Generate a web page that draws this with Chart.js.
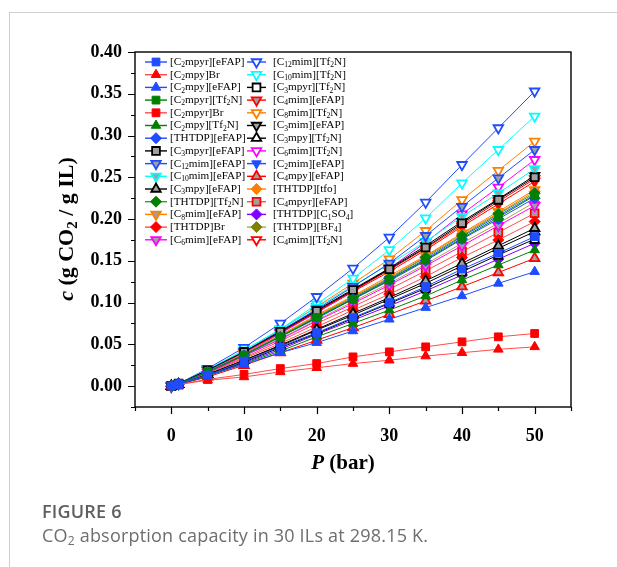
<!DOCTYPE html>
<html>
<head>
<meta charset="utf-8">
<script src="https://cdn.jsdelivr.net/npm/chart.js@4.4.1/dist/chart.umd.min.js"></script>
<style>
  html, body { margin: 0; padding: 0; background: #fff; }
  #wrap { position: relative; width: 617px; height: 567px; overflow: hidden; }
  #frame { position: absolute; left: 9px; top: 12px; right: -2px; bottom: -2px;
           border-top: 1px solid #cfcfcf; border-left: 1px solid #cfcfcf; }
  canvas { position: absolute; left: 0; top: 0; }
  .fig { position: absolute; left: 42px; top: 499px; font-family: "Open Sans"; font-weight: 600;
         font-size: 18px; letter-spacing: 0.2px; color: #5f5f5f; }
  .cap { position: absolute; left: 42px; top: 523px; font-family: "Open Sans"; font-size: 18px;
         letter-spacing: 0.2px; color: #6e6e6e; }
  .cap sub { font-size: 12px; vertical-align: -3px; }
</style>
</head>
<body>
<div id="wrap">
  <div id="frame"></div>
  <canvas id="myChart" width="617" height="567"></canvas>
  <div class="fig">FIGURE 6</div>
  <div class="cap">CO<sub>2</sub> absorption capacity in 30 ILs at 298.15 K.</div>
</div>
<script>
"use strict";

// pressure points (bar)
const pressure = [0, 1, 5, 10, 15, 20, 25, 30, 35, 40, 45, 50];

// CO2 uptake, g CO2 / g IL
const c_C2mpyr_eFAP = [0, 0.002, 0.013, 0.030, 0.047, 0.064, 0.082, 0.100, 0.119, 0.140, 0.159, 0.179];
const c_C2mpy_Br = [0, 0.002, 0.007, 0.011, 0.017, 0.022, 0.027, 0.031, 0.036, 0.040, 0.044, 0.047];
const c_C2mpy_eFAP = [0, 0.003, 0.013, 0.026, 0.040, 0.052, 0.066, 0.080, 0.094, 0.108, 0.123, 0.137];
const c_C2mpyr_Tf2N = [0, 0.003, 0.017, 0.037, 0.059, 0.082, 0.104, 0.127, 0.151, 0.177, 0.202, 0.228];
const c_C2mpyr_Br = [0, 0.002, 0.008, 0.014, 0.021, 0.027, 0.035, 0.041, 0.047, 0.053, 0.059, 0.063];
const c_C2mpy_Tf2N = [0, 0.002, 0.012, 0.027, 0.042, 0.059, 0.075, 0.091, 0.108, 0.127, 0.145, 0.163];
const c_THTDP_eFAP = [0, 0.003, 0.017, 0.037, 0.059, 0.081, 0.104, 0.126, 0.150, 0.176, 0.200, 0.225];
const c_C3mpyr_eFAP = [0, 0.003, 0.019, 0.041, 0.065, 0.090, 0.115, 0.140, 0.166, 0.195, 0.223, 0.250];
const c_C12mim_eFAP = [0, 0.003, 0.019, 0.041, 0.066, 0.092, 0.119, 0.147, 0.180, 0.215, 0.249, 0.283];
const c_C10mim_eFAP = [0, 0.003, 0.020, 0.043, 0.068, 0.094, 0.120, 0.146, 0.173, 0.203, 0.231, 0.260];
const c_C3mpy_eFAP = [0, 0.002, 0.014, 0.031, 0.049, 0.068, 0.087, 0.106, 0.126, 0.147, 0.168, 0.189];
const c_THTDP_Tf2N = [0, 0.003, 0.017, 0.038, 0.060, 0.083, 0.106, 0.129, 0.154, 0.180, 0.206, 0.231];
const c_C8mim_eFAP = [0, 0.003, 0.018, 0.039, 0.061, 0.085, 0.108, 0.132, 0.156, 0.183, 0.209, 0.235];
const c_THTDP_Br = [0, 0.002, 0.015, 0.033, 0.051, 0.071, 0.091, 0.110, 0.131, 0.154, 0.175, 0.197];
const c_C6mim_eFAP = [0, 0.003, 0.016, 0.036, 0.056, 0.078, 0.099, 0.121, 0.144, 0.168, 0.192, 0.216];
const c_C12mim_Tf2N = [0, 0.003, 0.021, 0.046, 0.075, 0.107, 0.141, 0.178, 0.220, 0.265, 0.309, 0.353];
const c_C10mim_Tf2N = [0, 0.003, 0.019, 0.042, 0.068, 0.098, 0.129, 0.163, 0.201, 0.243, 0.283, 0.323];
const c_C3mpyr_Tf2N = [0, 0.002, 0.013, 0.029, 0.046, 0.063, 0.081, 0.099, 0.117, 0.137, 0.157, 0.176];
const c_C4mim_eFAP = [0, 0.003, 0.019, 0.041, 0.064, 0.089, 0.114, 0.139, 0.165, 0.193, 0.221, 0.248];
const c_C8mim_Tf2N = [0, 0.003, 0.019, 0.042, 0.068, 0.095, 0.123, 0.152, 0.186, 0.223, 0.258, 0.293];
const c_C3mim_eFAP = [0, 0.003, 0.019, 0.042, 0.066, 0.091, 0.116, 0.141, 0.168, 0.197, 0.224, 0.252];
const c_C3mpy_Tf2N = [0, 0.002, 0.014, 0.031, 0.048, 0.067, 0.085, 0.104, 0.123, 0.144, 0.165, 0.185];
const c_C6mim_Tf2N = [0, 0.003, 0.018, 0.039, 0.063, 0.088, 0.114, 0.141, 0.172, 0.206, 0.238, 0.271];
const c_C2mim_eFAP = [0, 0.003, 0.017, 0.038, 0.060, 0.082, 0.105, 0.128, 0.152, 0.179, 0.204, 0.229];
const c_C4mpy_eFAP = [0, 0.002, 0.011, 0.025, 0.040, 0.055, 0.070, 0.086, 0.102, 0.119, 0.136, 0.153];
const c_THTDP_tfo = [0, 0.003, 0.017, 0.038, 0.061, 0.084, 0.107, 0.130, 0.155, 0.182, 0.207, 0.233];
const c_C4mpyr_eFAP = [0, 0.002, 0.016, 0.034, 0.054, 0.075, 0.095, 0.116, 0.138, 0.161, 0.184, 0.207];
const c_THTDP_C1SO4 = [0, 0.002, 0.013, 0.028, 0.044, 0.062, 0.079, 0.096, 0.114, 0.133, 0.152, 0.171];
const c_THTDP_BF4 = [0, 0.003, 0.016, 0.036, 0.057, 0.079, 0.101, 0.123, 0.146, 0.171, 0.195, 0.220];
const c_C4mim_Tf2N = [0, 0.003, 0.018, 0.040, 0.064, 0.088, 0.113, 0.137, 0.163, 0.191, 0.218, 0.245];

// "_2" marks a subscript in the names
const ilNames = [
  "[C_2mpyr][eFAP]", "[C_2mpy]Br", "[C_2mpy][eFAP]", "[C_2mpyr][Tf_2N]", "[C_2mpyr]Br",
  "[C_2mpy][Tf_2N]", "[THTDP][eFAP]", "[C_3mpyr][eFAP]", "[C_12mim][eFAP]", "[C_10mim][eFAP]",
  "[C_3mpy][eFAP]", "[THTDP][Tf_2N]", "[C_8mim][eFAP]", "[THTDP]Br", "[C_6mim][eFAP]",
  "[C_12mim][Tf_2N]", "[C_10mim][Tf_2N]", "[C_3mpyr][Tf_2N]", "[C_4mim][eFAP]", "[C_8mim][Tf_2N]",
  "[C_3mim][eFAP]", "[C_3mpy][Tf_2N]", "[C_6mim][Tf_2N]", "[C_2mim][eFAP]", "[C_4mpy][eFAP]",
  "[THTDP][tfo]", "[C_4mpyr][eFAP]", "[THTDP][C_1SO_4]", "[THTDP][BF_4]", "[C_4mim][Tf_2N]",
];
const ilValues = [
  c_C2mpyr_eFAP, c_C2mpy_Br, c_C2mpy_eFAP, c_C2mpyr_Tf2N, c_C2mpyr_Br,
  c_C2mpy_Tf2N, c_THTDP_eFAP, c_C3mpyr_eFAP, c_C12mim_eFAP, c_C10mim_eFAP,
  c_C3mpy_eFAP, c_THTDP_Tf2N, c_C8mim_eFAP, c_THTDP_Br, c_C6mim_eFAP,
  c_C12mim_Tf2N, c_C10mim_Tf2N, c_C3mpyr_Tf2N, c_C4mim_eFAP, c_C8mim_Tf2N,
  c_C3mim_eFAP, c_C3mpy_Tf2N, c_C6mim_Tf2N, c_C2mim_eFAP, c_C4mpy_eFAP,
  c_THTDP_tfo, c_C4mpyr_eFAP, c_THTDP_C1SO4, c_THTDP_BF4, c_C4mim_Tf2N,
];

const xTicks = [0, 10, 20, 30, 40, 50];
const yTicks = [0, 0.05, 0.1, 0.15, 0.2, 0.25, 0.3, 0.35, 0.4];

// colours and marker styles
const BLUE = "#1f4cff", RED = "#ff0000", GREEN = "#008000", CYAN = "#00ffff";
const ORANGE = "#ff8000", MAGENTA = "#ff00ff", BLACK = "#000000";
const PURPLE = "#8000ff", OLIVE = "#808000", GRAY = "#a0a0a0", WHITE = "#ffffff";
const LRED = "#ff4c4c";

// [line colour, marker, marker fill, marker edge]
const styles = [
  [BLUE, "sq", BLUE, BLUE], [LRED, "up", RED, RED], [BLUE, "up", BLUE, BLUE],
  [GREEN, "sq", GREEN, GREEN], [LRED, "sq", RED, RED], [GREEN, "up", GREEN, GREEN],
  [BLUE, "dia", BLUE, BLUE], [BLACK, "sq", GRAY, BLACK], [BLUE, "dn", GRAY, BLUE],
  [CYAN, "dn", GRAY, CYAN], [BLACK, "up", GRAY, BLACK], ["#3a9a3a", "dia", GREEN, GREEN],
  [ORANGE, "dn", GRAY, ORANGE], [LRED, "dia", RED, RED], [MAGENTA, "dn", GRAY, MAGENTA],
  [BLUE, "dn", WHITE, BLUE], [CYAN, "dn", WHITE, CYAN], [BLACK, "sq", WHITE, BLACK],
  [RED, "dn", GRAY, RED], [ORANGE, "dn", WHITE, ORANGE], [BLACK, "dn", GRAY, BLACK],
  [BLACK, "up", WHITE, BLACK], [MAGENTA, "dn", WHITE, MAGENTA], [BLUE, "dn", BLUE, BLUE],
  [RED, "up", GRAY, RED], [ORANGE, "dia", ORANGE, ORANGE], [LRED, "sq", GRAY, RED],
  [PURPLE, "dia", PURPLE, PURPLE], ["#a8a848", "dia", OLIVE, OLIVE], [RED, "dn", WHITE, RED],
];

const SERIF = "'Liberation Serif', 'Times New Roman', serif";

function markerOpts(kind) {
  if (kind === "sq") return { pointStyle: "rect", rotation: 0, radius: 5.5 };
  if (kind === "dia") return { pointStyle: "rectRot", rotation: 0, radius: 5.5 };
  if (kind === "dn") return { pointStyle: "triangle", rotation: 180, radius: 5.5 };
  return { pointStyle: "triangle", rotation: 0, radius: 5.5 };
}

const datasets = ilNames.map(function (name, i) {
  const s = styles[i];
  const m = markerOpts(s[1]);
  return {
    label: name,
    data: pressure.map((p, j) => ({ x: p, y: ilValues[i][j] })),
    borderColor: s[0],
    borderWidth: 1,
    pointStyle: m.pointStyle,
    pointRotation: m.rotation,
    pointRadius: m.radius,
    pointHoverRadius: m.radius,
    pointBackgroundColor: s[2],
    pointBorderColor: s[3],
    pointBorderWidth: s[2] === s[3] ? 1 : 1.8,
    fill: false,
    tension: 0,
  };
});

// text with "_12" style subscripts
function drawRich(ctx, text, x, y, size, style) {
  const parts = text.split(/_(\d+)/);
  let cx = x;
  parts.forEach(function (part, k) {
    if (!part) return;
    const sub = k % 2 === 1;
    const fs = sub ? size * 0.68 : size;
    ctx.font = style + " " + fs + "px " + SERIF;
    ctx.fillText(part, cx, sub ? y + size * 0.28 : y);
    cx += ctx.measureText(part).width;
  });
  return cx;
}

function richWidth(ctx, text, size, style) {
  const parts = text.split(/_(\d+)/);
  let w = 0;
  parts.forEach(function (part, k) {
    if (!part) return;
    const fs = k % 2 === 1 ? size * 0.68 : size;
    ctx.font = style + " " + fs + "px " + SERIF;
    w += ctx.measureText(part).width;
  });
  return w;
}

const framePlugin = {
  id: "frame",
  afterDraw(chart) {
    const ctx = chart.ctx;
    const a = chart.chartArea;
    const xs = chart.scales.x, ys = chart.scales.y;
    ctx.save();
    ctx.strokeStyle = "#000";
    ctx.lineWidth = 1.4;
    ctx.strokeRect(a.left, a.top, a.right - a.left, a.bottom - a.top);

    // tick marks, long on labelled values
    ctx.lineWidth = 1.2;
    ctx.beginPath();
    ys.ticks.forEach(function (t) {
      const y = Math.round(ys.getPixelForValue(t.value)) + 0.5;
      const major = Math.abs(t.value * 20 - Math.round(t.value * 20)) < 1e-6;
      ctx.moveTo(a.left, y);
      ctx.lineTo(a.left - (major ? 7 : 4), y);
    });
    xs.ticks.forEach(function (t) {
      const x = Math.round(xs.getPixelForValue(t.value)) + 0.5;
      const major = t.value % 10 === 0;
      ctx.moveTo(x, a.bottom);
      ctx.lineTo(x, a.bottom + (major ? 7 : 4));
    });
    ctx.stroke();

    // axis titles
    ctx.fillStyle = "#000";
    ctx.textBaseline = "middle";
    ctx.textAlign = "left";
    const xt = [["P", "italic bold"], [" (bar)", "bold"]];
    let w = 0;
    xt.forEach(function (p) { w += richWidth(ctx, p[0], 21, p[1]); });
    let cx = (a.left + a.right) / 2 - w / 2 - 10;
    xt.forEach(function (p) { cx = drawRich(ctx, p[0], cx, 464, 21, p[1]); });

    ctx.translate(67, 229);
    ctx.rotate(-Math.PI / 2);
    const yt = [["c", "italic bold"], [" (g CO_2 / g IL)", "bold"]];
    w = 0;
    yt.forEach(function (p) { w += richWidth(ctx, p[0], 22, p[1]); });
    cx = -w / 2;
    yt.forEach(function (p) { cx = drawRich(ctx, p[0], cx, 0, 22, p[1]); });
    ctx.restore();
  },
};

// two column legend inside the plot
const legendPlugin = {
  id: "ilLegend",
  afterDraw(chart) {
    const ctx = chart.ctx;
    const half = Math.ceil(chart.data.datasets.length / 2);
    const cols = [{ x0: 145, x1: 167, tx: 170 }, { x0: 247, x1: 266, tx: 273 }];
    ctx.save();
    ctx.textBaseline = "middle";
    ctx.textAlign = "left";
    chart.data.datasets.forEach(function (ds, i) {
      const col = cols[i < half ? 0 : 1];
      const row = i < half ? i : i - half;
      const y = 62 + row * 12.7;
      ctx.strokeStyle = ds.borderColor;
      ctx.lineWidth = 1.4;
      ctx.beginPath();
      ctx.moveTo(col.x0, y);
      ctx.lineTo(col.x1, y);
      ctx.stroke();
      ctx.fillStyle = ds.pointBackgroundColor;
      ctx.strokeStyle = ds.pointBorderColor;
      ctx.lineWidth = ds.pointBorderWidth;
      Chart.helpers.drawPoint(ctx, {
        pointStyle: ds.pointStyle,
        rotation: ds.pointRotation,
        radius: ds.pointRadius,
        borderWidth: ds.pointBorderWidth,
      }, (col.x0 + col.x1) / 2, y);
      ctx.fillStyle = "#000";
      drawRich(ctx, ds.label, col.tx, y, 11.2, "normal");
    });
    ctx.restore();
  },
};

const ctx = document.getElementById("myChart").getContext("2d");
const myChart = new Chart(ctx, {
  type: "line",
  data: { datasets: datasets },
  options: {
    responsive: false,
    animation: false,
    devicePixelRatio: 1,
    layout: { padding: { left: 0, right: 46, top: 52, bottom: 100 } },
    plugins: { legend: { display: false }, tooltip: { enabled: false } },
    scales: {
      x: {
        type: "linear",
        min: -5,
        max: 55,
        afterFit: function (scale) { scale.height = 60; },
        grid: { display: false, drawTicks: false },
        border: { display: false },
        ticks: {
          stepSize: 5,
          autoSkip: false,
          maxRotation: 0,
          padding: 19,
          color: "#000",
          font: { family: SERIF, size: 18, weight: "bold" },
          callback: function (v) { return xTicks.indexOf(v) >= 0 ? String(v) : ""; },
        },
      },
      y: {
        type: "linear",
        min: -0.025,
        max: 0.4,
        afterFit: function (scale) { scale.width = 135; },
        grid: { display: false, drawTicks: false },
        border: { display: false },
        ticks: {
          stepSize: 0.025,
          autoSkip: false,
          padding: 13,
          color: "#000",
          font: { family: SERIF, size: 18, weight: "bold" },
          callback: function (v) {
            const hit = yTicks.find((t) => Math.abs(t - v) < 1e-6);
            return hit === undefined ? "" : hit.toFixed(2);
          },
        },
      },
    },
  },
  plugins: [framePlugin, legendPlugin],
});
</script>
</body>
</html>
